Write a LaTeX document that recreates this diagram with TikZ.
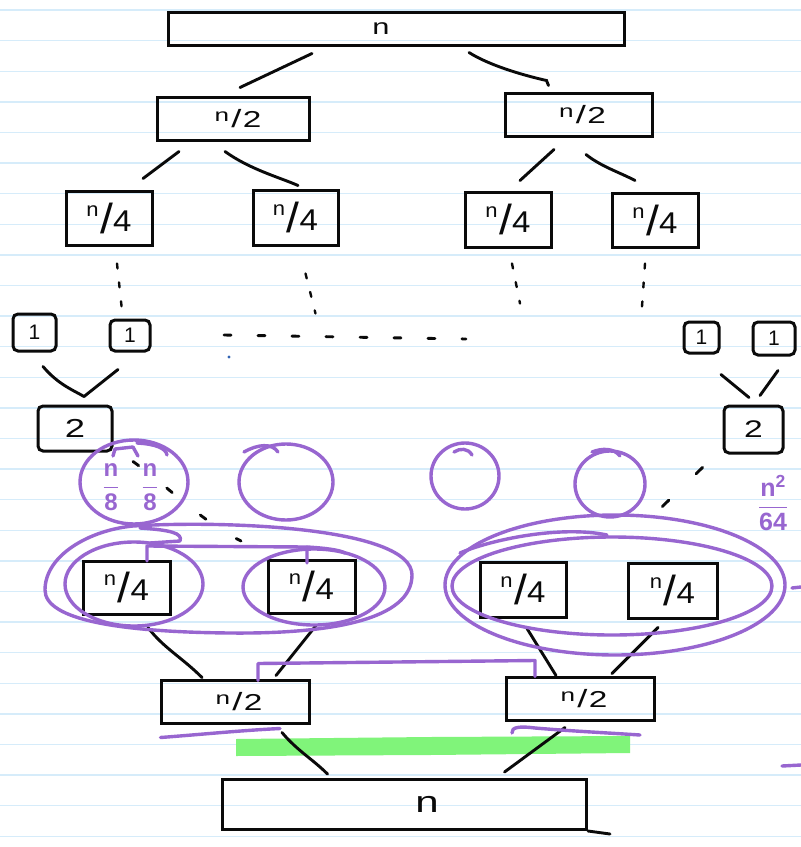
\documentclass[tikz,border=0pt]{standalone}
\usepackage{fontspec}
\usepackage{graphicx}
\setmainfont{Liberation Sans}
\usetikzlibrary{calc}

\definecolor{ink}{RGB}{10,10,10}
\definecolor{pen}{RGB}{152,102,208}
\definecolor{ruleblue}{RGB}{214,236,250}
\definecolor{marker}{RGB}{128,244,122}
\definecolor{dotblue}{RGB}{50,100,180}

% handwritten-looking size labels
\newcommand\wide[1]{\scalebox{1.4}[1]{#1}}
\newcommand\nhalf{\scalebox{1.45}[1]{{\fontsize{18}{18}\selectfont\raisebox{6pt}{n}}\kern1.5pt{\fontsize{25}{25}\selectfont/\kern1pt}{\fontsize{23}{23}\selectfont 2}}}
\newcommand\nquarter{\scalebox{1.1}[1]{{\fontsize{20}{20}\selectfont\raisebox{15pt}{n}}\kern1.5pt{\fontsize{42}{42}\selectfont\raisebox{-2pt}{/}}\kern0pt{\fontsize{30}{30}\selectfont 4}}}
\newcommand\eighth{{\fontsize{24}{24}\selectfont\bfseries$\displaystyle\frac{\mbox{n}}{\mbox{8}}$}}

\tikzset{
  tbox/.style={draw=ink, line width=3pt, inner sep=0pt, text=ink},
  onebox/.style={tbox, rounded corners=5pt, font=\fontsize{21}{21}\selectfont},
  link/.style={draw=ink, line width=2.9pt, line cap=round},
  dotline/.style={draw=ink, line width=2.4pt, line cap=round, dash pattern=on 5pt off 14pt},
  ring/.style={draw=pen, line width=3.4pt, line cap=round, line join=round},
  ruling/.style={draw=ruleblue, line width=1.4pt},
}

\begin{document}
\begin{tikzpicture}[x=1pt,y=-1pt]
\useasboundingbox (0,0) rectangle (801,847);
\fill[white] (0,0) rectangle (801,847);

% ruled notebook paper
\foreach \k in {0,...,27}
  \draw[ruling] (0,10+30.6*\k) -- (801,10+30.6*\k);

% highlighter stroke
\fill[marker] (236,739) -- (430,737) -- (630,736) -- (630,753) -- (430,755) -- (236,756) -- cycle;

% ---------- splitting tree ----------
\node[tbox, minimum width=456pt, minimum height=33pt, font=\fontsize{22}{22}\selectfont] (T) at (396,28.5) {\wide{n}\hspace*{30pt}};

\node[tbox, minimum width=152pt, minimum height=43pt] (L2) at (233,118.5) {\hspace*{10pt}\nhalf};
\node[tbox, minimum width=147pt, minimum height=43pt] (R2) at (578.5,114.5) {\hspace*{8pt}\nhalf};

\node[tbox, minimum width=86pt, minimum height=54pt] (A) at (109,218) {\nquarter};
\node[tbox, minimum width=85pt, minimum height=55pt] (B) at (295.5,217.5) {\nquarter};
\node[tbox, minimum width=86pt, minimum height=55pt] (C) at (508,219.5) {\nquarter};
\node[tbox, minimum width=86pt, minimum height=54pt] (D) at (655,220) {\nquarter};

\draw[link] ($(T.south)+(-84,7)$) -- ($(L2.north)+(7,-8)$);
\draw[link] ($(T.south)+(73,6)$) .. controls +(22,14) and +(-18,-4) .. ($(R2.north)+(-32,-11)$) -- +(2,5);
\draw[link] ($(L2.south)+(-54,10)$) -- ($(A.north)+(34,-11)$);
\draw[link] ($(L2.south)+(-8,10)$) .. controls +(25,18) and +(-18,-8) .. ($(B.north)+(2.5,-3)$);
\draw[link] ($(R2.south)+(-24.5,12)$) -- ($(C.north)+(12,-10)$);
\draw[link] ($(R2.south)+(7.5,17)$) .. controls +(15,12) and +(-15,-8) .. ($(D.north)+(-20,-11)$);

% base case leaves
\node[onebox, minimum width=43pt, minimum height=37pt] (O1) at (34.5,332.5) {1};
\node[onebox, minimum width=40pt, minimum height=31pt] (O2) at (130,335.5) {1};
\node[onebox, minimum width=35pt, minimum height=31pt] (O3) at (701.5,337.5) {1};
\node[onebox, minimum width=42pt, minimum height=33pt] (O4) at (774,338.5) {1};

\draw[dotline] ($(A.south)+(8,17)$) -- ($(O2.north)+(-8,-8)$);
\draw[dotline] ($(B.south)+(10,27)$) -- +(10,40);
\draw[dotline] ($(C.south)+(4,15)$) -- +(8,40);
\draw[dotline] ($(D.south)+(-10,15)$) -- +(-3,43);
\draw[link, dash pattern=on 7pt off 27pt] (224,335) -- (466,339);
\fill[dotblue] (229,357) circle (1.6);

% ---------- merging ----------
\node[onebox, minimum width=74pt, minimum height=45pt, font=\fontsize{26}{26}\selectfont] (W1) at (75,428.5) {\wide{2}};
\node[onebox, minimum width=59pt, minimum height=47pt, font=\fontsize{24}{24}\selectfont] (W2) at (753.5,429.5) {\wide{2}};

\draw[link] ($(O1.south)+(8.5,14)$) .. controls +(15,18) and +(-10,-6) .. ($(W1.north)+(9,-8)$);
\draw[link] ($(O2.south)+(-12,17)$) -- ($(W1.north)+(9,-8)$);
\draw[link] ($(O3.south)+(19.5,20)$) -- ($(W2.north)+(-4.5,-7)$);
\draw[link] ($(O4.south)+(4,14)$) -- ($(W2.north)+(6.5,-9)$);

\node[tbox, minimum width=87pt, minimum height=53pt] (P1) at (126.5,587.5) {\nquarter};
\node[tbox, minimum width=87pt, minimum height=53pt] (P2) at (311.5,586.5) {\nquarter};
\node[tbox, minimum width=86pt, minimum height=55pt] (P3) at (523,589.5) {\nquarter};
\node[tbox, minimum width=89pt, minimum height=55pt] (P4) at (672.5,590.5) {\nquarter};

\node[tbox, minimum width=148pt, minimum height=43pt] (Q1) at (235,701.5) {\hspace*{8pt}\nhalf};
\node[tbox, minimum width=148pt, minimum height=43pt] (Q2) at (580,698.5) {\hspace*{8pt}\nhalf};

\node[tbox, minimum width=364pt, minimum height=50pt, font=\fontsize{30}{30}\selectfont] (N) at (404.5,804.5) {\hspace*{45pt}\wide{n}};

\draw[link] ($(P1.south)+(21.5,12)$) .. controls +(15,20) and +(-20,-20) .. ($(Q1.north)+(-33,-1)$);
\draw[link] ($(P2.south)+(4.5,11)$) -- ($(Q1.north)+(41,-3)$);
\draw[link] ($(P3.south)+(4,10)$) -- ($(Q2.north)+(-24,0)$);
\draw[link] ($(P4.south)+(-14.5,8)$) -- ($(Q2.north)+(32,-2)$);
\draw[link] ($(Q1.south)+(47,8)$) .. controls +(15,18) and +(-15,-15) .. ($(N.north)+(-77,-4)$);
\draw[link] ($(Q2.south)+(-15,6)$) -- ($(N.north)+(100,-6)$);
\draw[link] (N.south east) -- +(22,3);

% dashed traces from the pairs down to the groups
\draw[link, dash pattern=on 7pt off 36pt] ($(W1.south)+(58,9)$) .. controls +(35,25) and +(-40,-20) .. (241,541);
\draw[link, dash pattern=on 9pt off 38pt] ($(W2.south)+(-51,13)$) -- (636,532);

% ---------- purple annotations ----------
\draw[ring] (134,482) ellipse [x radius=54, y radius=42];
\draw[ring] (113,456) -- (115,449) -- (133,447) -- (138,456);
\draw[ring] (137,443) .. controls (155,444) and (166,448) .. (167,455);
\node[text=pen] at (111,487) {\eighth};
\node[text=pen] at (150,487) {\eighth};

\draw[ring] (286,482) ellipse [x radius=47, y radius=38];
\draw[ring] (244,452) .. controls (258,444) and (272,443) .. (278,452);
\draw[ring] (465,476) ellipse [x radius=34, y radius=33];
\draw[ring] (454,452) .. controls (460,448) and (468,448) .. (472,455);
\draw[ring] (610,484) ellipse [x radius=35, y radius=33];
\draw[ring] (592,452) .. controls (602,448) and (614,448) .. (620,456);

\node[text=pen, font=\fontsize{25}{25}\selectfont\bfseries] at (773,503) {$\displaystyle\frac{\mbox{n\textsuperscript{2}}}{\mbox{64}}$};

% left group
\draw[ring] (133,526) .. controls (230,520) and (412,528) .. (412,575)
  .. controls (412,620) and (330,634) .. (230,633)
  .. controls (120,632) and (45,620) .. (45,590)
  .. controls (45,555) and (90,530) .. (133,526);
\draw[ring] (140,528) .. controls (170,530) and (183,533) .. (180,541) -- (150,543);
\draw[ring] (134,584) ellipse [x radius=69, y radius=42];
\draw[ring] (314,587) ellipse [x radius=71, y radius=38];
\draw[ring] (147,561) -- (147,546) -- (307,547) -- (307,563);
\draw[ring] (307,547) .. controls (325,548) and (340,550) .. (345,553);

% right group
\draw[ring] (615,585) ellipse [x radius=170, y radius=70];
\draw[ring] (612,586) ellipse [x radius=160, y radius=49];
\draw[ring] (460,553) .. controls (490,540) and (560,525) .. (607,535);

% bracket joining the merged halves
\draw[ring] ($(Q1.north)+(23,2)$) -- +(0,-17) -- ($(Q2.north)+(-45,-15)$) -- ($(Q2.north)+(-45,1)$);

% underlines
\draw[ring] ($(Q1.south west)+(1,13)$) .. controls +(40,-3) and +(-40,2) .. ($(Q1.south)+(45,4)$);
\draw[ring] (512,733) .. controls (511,727) and (520,726) .. (535,728) .. controls (570,731) and (610,733) .. (640,735);

% edge marks
\draw[ring] (782,766) -- (801,765);
\draw[ring] (792,588) -- (801,587);
\end{tikzpicture}
\end{document}
